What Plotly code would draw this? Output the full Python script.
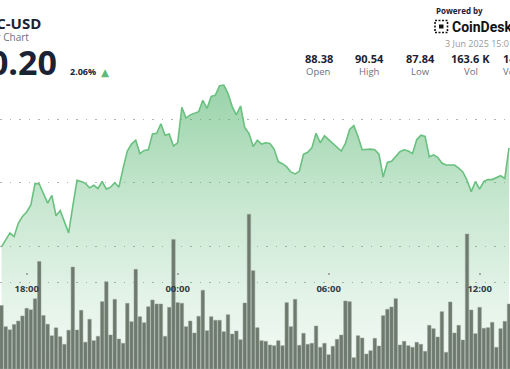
import plotly.graph_objects as go
import pandas as pd

# ---- data ----
times = pd.date_range("2025-06-02 17:00", periods=122, freq="10min")

price = [
    87.99, 88.10, 88.21, 88.15, 88.36, 88.47, 88.54, 88.65, 88.99, 88.98,
    88.82, 88.68, 88.80, 88.48, 88.56, 88.37, 88.21, 88.63, 89.04, 89.02,
    88.99, 88.92, 88.96, 88.91, 89.02, 88.90, 88.93, 89.00, 88.93, 89.23,
    89.50, 89.61, 89.67, 89.46, 89.51, 89.52, 89.77, 89.78, 89.93, 89.75,
    89.77, 89.58, 89.63, 90.19, 90.02, 90.07, 90.09, 90.12, 90.30, 90.17,
    90.36, 90.38, 90.53, 90.54, 90.41, 90.20, 90.07, 90.21, 89.87, 89.78,
    89.57, 89.67, 89.61, 89.63, 89.62, 89.53, 89.33, 89.30, 89.25, 89.17,
    89.14, 89.18, 89.45, 89.48, 89.55, 89.78, 89.63, 89.74, 89.68, 89.62,
    89.56, 89.50, 89.62, 89.84, 89.90, 89.73, 89.52, 89.53, 89.53, 89.52,
    89.45, 89.09, 89.32, 89.34, 89.41, 89.49, 89.52, 89.50, 89.46, 89.68,
    89.75, 89.73, 89.41, 89.44, 89.40, 89.31, 89.28, 89.28, 89.28, 89.23,
    89.17, 89.04, 88.86, 89.02, 88.90, 89.02, 89.05, 89.05, 89.08, 89.11,
    89.07, 89.55,
]

volume = [
    1465, 976, 904, 1027, 1107, 1223, 1400, 1366, 1620, 2480,
    1234, 1034, 766, 950, 745, 570, 895, 2353, 900, 1354,
    618, 1147, 653, 754, 1553, 2014, 784, 1608, 692, 593,
    1516, 1091, 2300, 1207, 1068, 1437, 1592, 1500, 1500, 754,
    1423, 2988, 1530, 1516, 976, 1107, 831, 1216, 1816, 884,
    1207, 1124, 1124, 861, 1253, 807, 877, 676, 1523, 3569,
    2268, 953, 653, 639, 554, 538, 653, 538, 1530, 976,
    1608, 547, 824, 570, 593, 992, 501, 593, 330, 524,
    685, 784, 1569, 1553, 261, 768, 715, 346, 422, 708,
    531, 1230, 1377, 1430, 1622, 554, 639, 538, 501, 616,
    570, 408, 1008, 930, 738, 1322, 385, 1546, 831, 1008,
    669, 3114, 1361, 814, 1423, 939, 953, 1077, 501, 930,
    1100, 1500,
]

tick_times = ["2025-06-02 18:00", "2025-06-03 00:00", "2025-06-03 06:00", "2025-06-03 12:00"]
tick_labels = ["18:00", "00:00", "06:00", "12:00"]

price_grid = [88, 89, 90]
volume_grid = [2000]

title_text = "LTC-USD"
subtitle_text = "24 Hour Chart"
last_price_text = "$90.20"
change_text = "2.06%"
stat_values = ["88.38", "90.54", "87.84", "163.6 K", "14.6 M"]
stat_labels = ["Open", "High", "Low", "Vol", "Vol USD"]
timestamp_text = "3 Jun 2025 15:01 UTC"

# ---- figure ----
W, H = 510, 369
x_range = ["2025-06-02 16:56:25", "2025-06-03 13:12:25"]
FONT = "Open Sans"
DARK = "#1b2233"


def px(x):
    return x / W


def py(y):
    return 1 - y / H


fig = go.Figure()

fig.add_trace(go.Scatter(
    x=times, y=price, mode="lines",
    line=dict(color="#69c07f", width=1.6),
    fill="tozeroy",
    fillgradient=dict(
        type="vertical", start=86.065, stop=90.54,
        colorscale=[
            [0.0, "rgba(60,170,90,0.06)"],
            [0.25, "rgba(60,170,90,0.14)"],
            [0.6, "rgba(60,170,90,0.29)"],
            [1.0, "rgba(60,170,90,0.52)"],
        ],
    ),
    hoverinfo="skip", showlegend=False,
    xaxis="x", yaxis="y",
))

fig.add_trace(go.Bar(
    x=times, y=volume,
    marker=dict(color="#6e7a6e", line=dict(color="#97a197", width=0.5)),
    width=8.3 * 60 * 1000,
    hoverinfo="skip", showlegend=False,
    xaxis="x2", yaxis="y2",
))

grid_style = dict(showgrid=True, gridcolor="#b4b4b4", gridwidth=1.2, griddash="1.5px,8px")

fig.update_layout(
    template="none",
    width=W, height=H,
    margin=dict(l=0, r=0, t=0, b=0, pad=0, autoexpand=False),
    paper_bgcolor="white", plot_bgcolor="white",
    showlegend=False,
    xaxis=dict(range=x_range, type="date", showgrid=False, zeroline=False,
               showticklabels=False, ticks="", showline=False, automargin=False,
               domain=[0, 1]),
    xaxis2=dict(range=x_range, type="date", overlaying="x", anchor="free",
                position=py(275), side="bottom", showgrid=False, zeroline=False,
                showline=False, tickvals=tick_times, ticktext=tick_labels,
                ticks="inside", ticklen=2, tickwidth=2, tickcolor="#a8a8a8",
                ticklabelstandoff=6, automargin=False,
                tickfont=dict(family=FONT, size=9.5, color="#333a44", weight="bold")),
    yaxis=dict(range=[86.065, 91.88], tickvals=price_grid, showticklabels=False,
               zeroline=False, showline=False, automargin=False, ticks="",
               domain=[0, 1], **grid_style),
    yaxis2=dict(range=[0, 8512], overlaying="y", anchor="x2", tickvals=volume_grid,
                showticklabels=False, zeroline=False, showline=False, automargin=False,
                ticks="", **grid_style),
    bargap=0.17,
)

ann = []
ann.append(dict(text=title_text, x=px(42.5), y=py(22.5), xanchor="right", yanchor="middle",
                font=dict(family=FONT, size=15, color=DARK, weight="bold")))
ann.append(dict(text=subtitle_text, x=px(30.5), y=py(36.5), xanchor="right", yanchor="middle",
                font=dict(family=FONT, size=10, color="#6b7280")))
ann.append(dict(text=last_price_text, x=px(58.5), y=py(62.5), xanchor="right", yanchor="middle",
                font=dict(family=FONT, size=34, color=DARK, weight="bold")))
ann.append(dict(text=change_text, x=px(67.5), y=py(72), xanchor="left", yanchor="middle",
                font=dict(family=FONT, size=9, color=DARK, weight="bold")))
ann.append(dict(text="▲", x=px(98.5), y=py(72), xanchor="left", yanchor="middle",
                font=dict(family="DejaVu Sans", size=10.5, color="#5dbb77")))
ann.append(dict(text="Powered by", x=px(433.5), y=py(10), xanchor="left", yanchor="middle",
                font=dict(family=FONT, size=8, color=DARK, weight="bold")))
ann.append(dict(text="CoinDesk", x=px(449.5), y=py(26.5), xanchor="left", yanchor="middle",
                font=dict(family="Roboto", size=14, color="#111111", weight="bold")))
ann.append(dict(text=timestamp_text, x=px(443), y=py(43.5), xanchor="left", yanchor="middle",
                font=dict(family=FONT, size=9, color="#9a9a9a")))
stat_x = [318.5, 369.7, 420.3, 470.8, 520.5]
for sx, v, l in zip(stat_x, stat_values, stat_labels):
    ann.append(dict(text=v, x=px(sx), y=py(59), xanchor="center", yanchor="middle",
                    font=dict(family=FONT, size=11, color=DARK, weight="bold")))
    ann.append(dict(text=l, x=px(sx), y=py(71.5), xanchor="center", yanchor="middle",
                    font=dict(family=FONT, size=9.5, color="#6b7280")))
for a in ann:
    a.update(xref="paper", yref="paper", showarrow=False)
fig.update_layout(annotations=ann)

# small CoinDesk logo mark
logo = [
    dict(type="rect", x0=px(435), x1=px(447.5), y0=py(32.5), y1=py(20.5),
         line=dict(color="#111111", width=1.6, dash="2px,1.5px")),
    dict(type="rect", x0=px(439), x1=px(443.5), y0=py(28.5), y1=py(24.5),
         line=dict(width=0), fillcolor="#111111"),
]
for s in logo:
    s.update(xref="paper", yref="paper", layer="above")
fig.update_layout(shapes=logo)

fig.write_html(
    "out.html",
    config={"displayModeBar": False, "staticPlot": True},
    post_script="document.body.style.margin='0';document.body.style.overflow='hidden';",
)
